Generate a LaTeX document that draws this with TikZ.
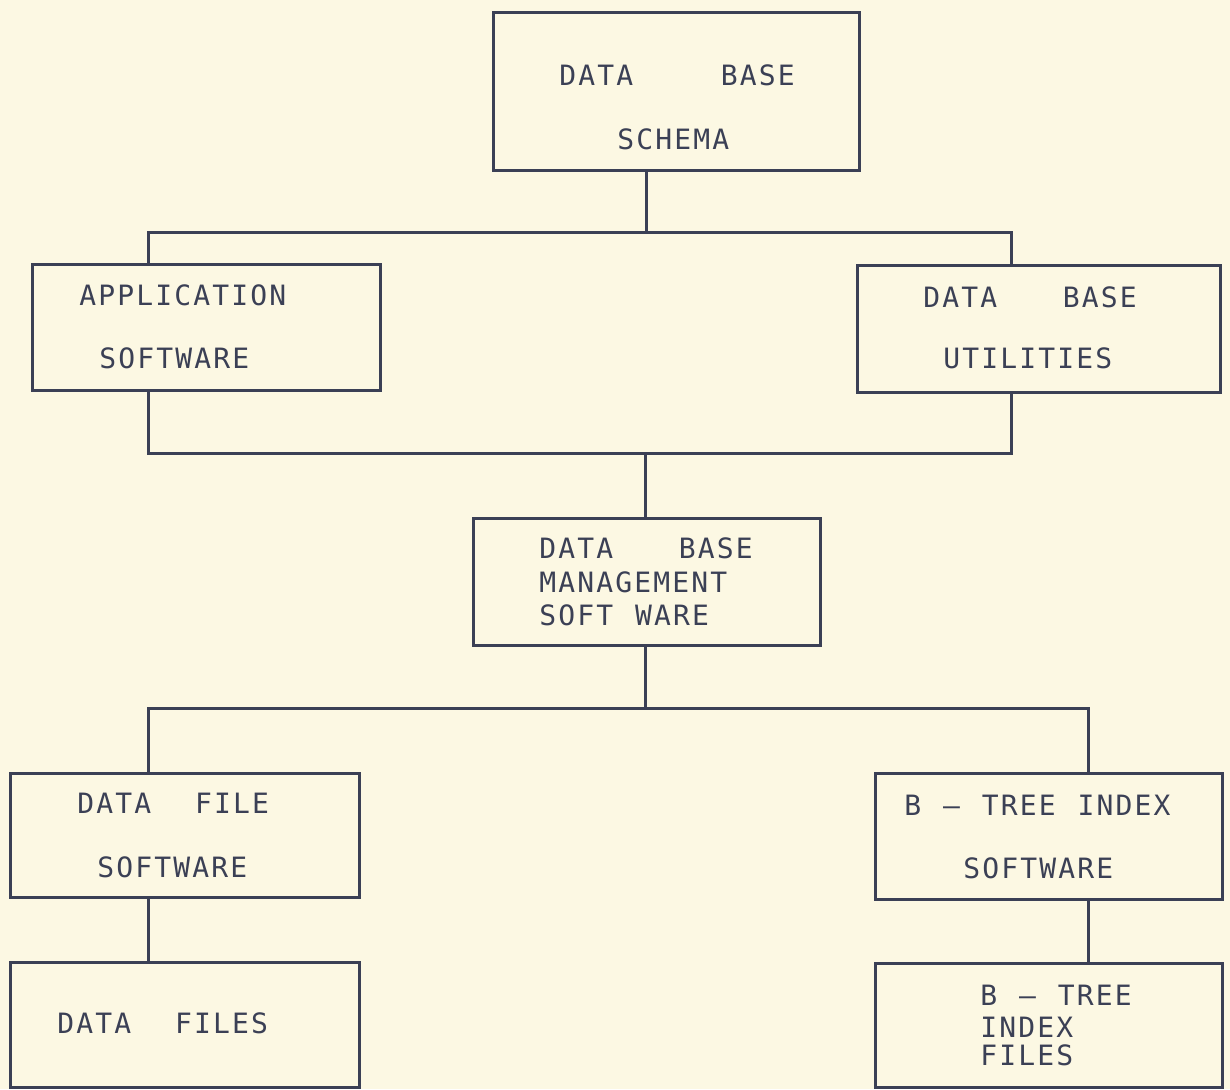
\documentclass[tikz,border=0pt]{standalone}
\usepackage{fontspec}
\newfontfamily\plotfont{DejaVu Sans Mono}[LetterSpace=7.7,WordSpace=1.15]
\definecolor{paper}{HTML}{FCF8E3}
\definecolor{ink}{HTML}{3B4055}
\begin{document}
\begin{tikzpicture}[x=0.5pt,y=-0.5pt,
  box/.style={draw=ink,line width=1.5pt,rectangle,inner sep=0pt},
  txt/.style={anchor=west,inner sep=0pt,text=ink,font=\plotfont\fontsize{14pt}{17pt}\selectfont,text height=10.2pt,text depth=0pt},
  link/.style={draw=ink,line width=1.5pt,line cap=butt,line join=miter}]
\fill[paper] (0,0) rectangle (1230,1089);
\useasboundingbox (0,0) rectangle (1230,1089);
% boxes
\node[box,minimum width=183pt,minimum height=79pt] (schema) at (676,91) {};
\node[box,minimum width=174pt,minimum height=63pt] (app) at (206,327) {};
\node[box,minimum width=181.5pt,minimum height=63.5pt] (util) at (1038.5,328.5) {};
\node[box,minimum width=173.5pt,minimum height=63.5pt] (dbms) at (646.5,581.5) {};
\node[box,minimum width=174.5pt,minimum height=62pt] (dfs) at (184.5,835) {};
\node[box,minimum width=173.5pt,minimum height=63pt] (bts) at (1048.5,836) {};
\node[box,minimum width=174.5pt,minimum height=62.5pt] (df) at (184.5,1024.5) {};
\node[box,minimum width=173.5pt,minimum height=62pt] (btf) at (1048.5,1025) {};
% texts
\node[txt] (s1) at (559,75) {DATA~~~~BASE};
\node[txt] (s2) at (617,139) {SCHEMA};
\node[txt] (a1) at (79,295) {APPLICATION};
\node[txt] (a2) at (99,358) {SOFTWARE};
\node[txt] (u1) at (923,297) {DATA~~~BASE};
\node[txt] (u2) at (943,358) {UTILITIES};
\node[txt] (m1) at (539,548) {DATA~~~BASE};
\node[txt] (m2) at (539,582) {MANAGEMENT};
\node[txt] (m3) at (539,615) {SOFT WARE};
\node[txt] (f1) at (77,803) {DATA~~FILE};
\node[txt] (f2) at (97,867) {SOFTWARE};
\node[txt] (b1) at (904,805) {B — TREE INDEX};
\node[txt] (b2) at (963,868) {SOFTWARE};
\node[txt] (d1) at (57,1023) {DATA~~FILES};
\node[txt] (c1) at (980,995) {B — TREE};
\node[txt] (c2) at (980,1027) {INDEX};
\node[txt] (c3) at (980,1055) {FILES};
% junctions
\coordinate (ja) at (646,232);
\coordinate (jaL) at (148,232);
\coordinate (jaR) at (1011,232);
\coordinate (jb) at (645,453);
\coordinate (jbL) at (148,453);
\coordinate (jbR) at (1011,453);
\coordinate (jc) at (645,708);
\coordinate (jcL) at (148,708);
\coordinate (jcR) at (1088,708);
% connectors
\draw[link] (schema.south -| ja) -- (ja);
\draw[link] (app.north -| jaL) -- (jaL) -- (jaR) -- (util.north -| jaR);
\draw[link] (app.south -| jbL) -- (jbL) -- (jbR) -- (util.south -| jbR);
\draw[link] (jb) -- (dbms.north -| jb);
\draw[link] (dbms.south -| jc) -- (jc);
\draw[link] (dfs.north -| jcL) -- (jcL) -- (jcR) -- (bts.north -| jcR);
\draw[link] (dfs.south -| jcL) -- (df.north -| jcL);
\draw[link] (bts.south -| jcR) -- (btf.north -| jcR);
\end{tikzpicture}
\end{document}
